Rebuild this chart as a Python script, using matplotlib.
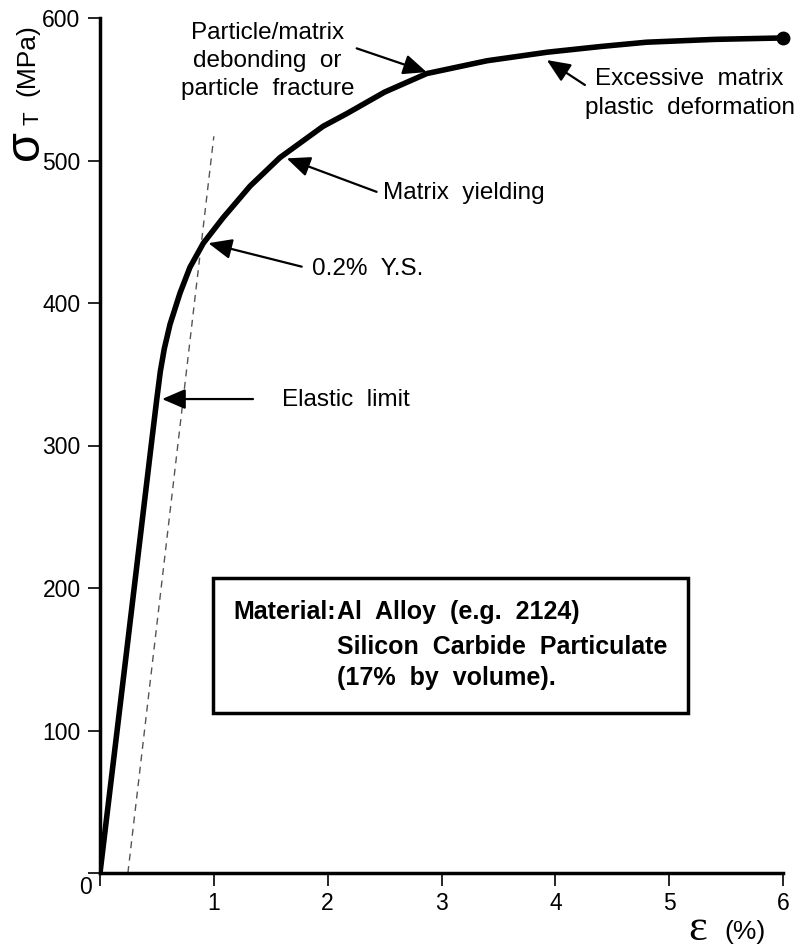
import numpy as np
import matplotlib.pyplot as plt
from matplotlib.patches import Rectangle

plt.rcParams['font.family'] = ['Liberation Sans', 'DejaVu Sans']

# true stress-strain curve of the Al/SiC composite
strain = [0, 0.23, 0.445, 0.498, 0.53, 0.565, 0.615, 0.703, 0.79, 0.908, 1.083,
          1.318, 1.58, 1.96, 2.17, 2.5, 2.87, 3.4, 3.93, 4.4, 4.8, 5.4, 6.0]
stress = [0, 153, 297, 332, 352, 368, 385, 407, 425, 442, 460,
          482, 502, 524, 533, 548, 561, 570, 576, 580, 583, 585, 586]

# 0.2% offset line
offset_strain = [0.245, 1.0]
offset_stress = [0, 517]

x_ticks = [0, 1, 2, 3, 4, 5, 6]
x_tick_labels = ['', '1', '2', '3', '4', '5', '6']
y_ticks = [0, 100, 200, 300, 400, 500, 600]
y_tick_labels = ['', '100', '200', '300', '400', '500', '600']

W, H = 800, 948
fig = plt.figure(figsize=(W / 100, H / 100), dpi=100)
ax = fig.add_axes([100 / W, 1 - 873 / H, 683 / W, 855 / H])

ax.plot(offset_strain, offset_stress, color='#555555', lw=1.0, ls=(0, (5, 4)))
ax.plot(strain, stress, color='black', lw=4, solid_capstyle='round',
        solid_joinstyle='round')
ax.plot(strain[-1], stress[-1], 'o', color='black', ms=9, clip_on=False)

ax.set_xlim(0, 6)
ax.set_ylim(0, 600)
ax.set_xticks(x_ticks)
ax.set_xticklabels(x_tick_labels)
ax.set_yticks(y_ticks)
ax.set_yticklabels(y_tick_labels)
ax.tick_params(direction='out', length=9, width=1.2, labelsize=16.5, pad=5)
for s in ['top', 'right']:
    ax.spines[s].set_visible(False)
for s in ['left', 'bottom']:
    ax.spines[s].set_linewidth(2.5)

# corner zero
fig.text(85 / W, 1 - 888 / H, '0', fontsize=16.5, ha='center', va='center')

# axis titles
fig.text(25 / W, 1 - 145 / H, 'σ', fontsize=35, rotation=90,
         ha='center', va='center')
fig.text(33 / W, 1 - 118 / H, 'T', fontsize=16, rotation=90, ha='center', va='center')
fig.text(27 / W, 1 - 60 / H, '(MPa)', fontsize=19, rotation=90, ha='center', va='center')
fig.text(698 / W, 1 - 940 / H, 'ε', family='Liberation Serif', fontsize=32,
         ha='center', va='baseline')
fig.text(745 / W, 1 - 932 / H, '(%)', fontsize=19, ha='center', va='center')

arrow = dict(arrowstyle='-|>,head_length=0.65,head_width=0.28', color='black',
             lw=1.6, mutation_scale=22, shrinkA=0, shrinkB=0)
fs = 17.5

ax.annotate('', xy=(0.545, 332.6), xytext=(1.344, 332.6), arrowprops=arrow)
ax.text(1.60, 332, 'Elastic  limit', fontsize=fs, va='center')

ax.annotate('', xy=(0.952, 442), xytext=(1.772, 425.5), arrowprops=arrow)
ax.text(1.86, 424, '0.2%  Y.S.', fontsize=fs, va='center')

ax.annotate('', xy=(1.64, 501.5), xytext=(2.43, 478), arrowprops=arrow)
ax.text(2.49, 477, 'Matrix  yielding', fontsize=fs, va='center')

ax.annotate('', xy=(2.87, 562), xytext=(2.255, 578.7), arrowprops=arrow)
ax.text(1.47, 570, 'Particle/matrix\ndebonding  or\nparticle  fracture',
        fontsize=fs, ha='center', va='center', linespacing=1.35)

ax.annotate('', xy=(3.925, 570.5), xytext=(4.26, 553), arrowprops=arrow)
ax.text(5.18, 547, 'Excessive  matrix\nplastic  deformation',
        fontsize=fs, ha='center', va='center', linespacing=1.4)

# material box
ax.add_patch(Rectangle((0.993, 112), 4.174, 95, fill=False, lw=2.5,
                       edgecolor='black'))
ax.text(1.169, 183, 'Material:', fontsize=18, fontweight='bold', va='center')
ax.text(2.083, 183, 'Al  Alloy  (e.g.  2124)', fontsize=18, fontweight='bold', va='center')
ax.text(2.083, 158.6, 'Silicon  Carbide  Particulate', fontsize=18,
        fontweight='bold', va='center')
ax.text(2.083, 137, '(17%  by  volume).', fontsize=18, fontweight='bold', va='center')

fig.savefig('out.png', dpi=100)
